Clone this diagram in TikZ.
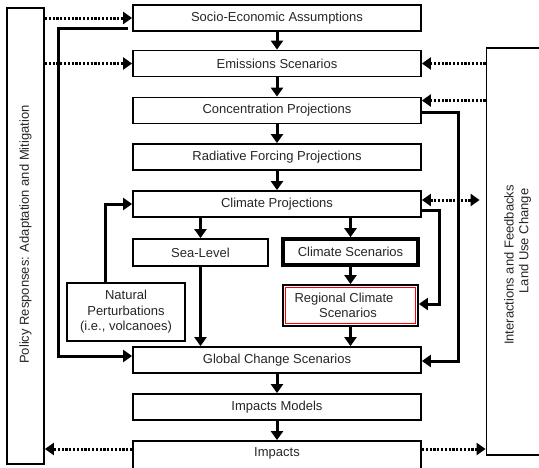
\documentclass[tikz,border=0pt]{standalone}
\usepackage{fontspec}
\setmainfont{Liberation Sans}
\usetikzlibrary{arrows.meta,calc}
\tikzset{
  box/.style={draw, line width=1.8pt, inner sep=0pt, minimum width=288pt, minimum height=26pt, font=\fontsize{13pt}{15.5pt}\selectfont, text=black!85},
  sbox/.style={box, minimum width=135pt},
  arr/.style={line width=3pt, -{Triangle[length=9pt,width=12pt]}},
  dotline/.style={line width=3pt, dash pattern=on 2.2pt off 1.6pt},
  dotarr/.style={dotline, -{Triangle[length=9pt,width=12pt]}},
  lbl/.style={font=\fontsize{13pt}{15.5pt}\selectfont, text=black!85, inner sep=0pt, rotate=90}
}
\begin{document}
\begin{tikzpicture}[x=1pt,y=-1pt]
\useasboundingbox (0,0) rectangle (539,467);
% side boxes
\node[draw, line width=1.8pt, minimum width=37pt, minimum height=456pt, inner sep=0pt] (pol) at (25.5,236) {};
\node[lbl] (poltext) at (25.5,234.5) {Policy Responses: Adaptation and Mitigation};
\node[draw, line width=1.8pt, minimum width=80pt, minimum height=407pt, inner sep=0pt] (inter) at (526.5,251.5) {};
\node[lbl] (intA) at (509,265) {Interactions and Feedbacks};
\node[lbl] (intB) at (525,241) {Land Use Change};
% main column
\node[box] (soc) at (277,18) {Socio-Economic Assumptions};
\node[box] (emi) at (277,63.5) {Emissions Scenarios};
\node[box] (con) at (277,110.5) {Concentration Projections};
\node[box] (rad) at (277,157) {Radiative Forcing Projections};
\node[box] (cli) at (277,204) {Climate Projections};
\node[sbox, minimum height=27pt] (sea) at (200.5,252.5) {Sea-Level};
\node[sbox, line width=3.6pt] (csc) at (350.5,252) {Climate Scenarios};
\node[sbox, minimum height=41pt] (reg) at (350.5,305.5) {};
\draw[red, line width=1.1pt] ($(reg.south west)+(3.2pt,3.2pt)$) rectangle ($(reg.north east)+(-3.2pt,-3.2pt)$);
\node[font=\fontsize{13pt}{15.5pt}\selectfont, text=black!85, align=center, inner sep=0pt] (regtext) at (344,305.5) {Regional Climate\\\hspace*{8pt}Scenarios};
\node[box, minimum width=118pt, minimum height=58pt, align=center] (nat) at (126,312) {Natural\\Perturbations\\(i.e., volcanoes)};
\node[box] (glo) at (277,360) {Global Change Scenarios};
\node[box] (imm) at (277,407) {Impacts Models};
\node[box, minimum height=28pt] (imp) at (277,455) {};
\node[font=\fontsize{13pt}{15.5pt}\selectfont, text=black!85, inner sep=0pt] (imptext) at (277,453.5) {Impacts};
% vertical arrows
\draw[arr] (soc.south) -- (emi.north);
\draw[arr] (emi.south) -- (con.north);
\draw[arr] (con.south) -- (rad.north);
\draw[arr] (rad.south) -- (cli.north);
\draw[arr] (sea.north |- cli.south) -- (sea.north);
\draw[arr] (csc.north |- cli.south) -- (csc.north);
\draw[arr] (csc.south) -- (reg.north);
\draw[arr] (reg.south) -- (reg.south |- glo.north);
\draw[arr] (sea.south) -- (sea.south |- glo.north);
\draw[arr] (glo.south) -- (imm.north);
\draw[arr] (imm.south) -- (imp.north);
% loops
\coordinate (lx) at (58,200);
\draw[arr] ([shift={(-4pt,-10pt)}]soc.west) -| (lx) |- ([yshift=4pt]glo.west);
\draw[arr] ([xshift=-21pt]nat.north) |- (cli.west);
\coordinate (rx1) at (458,250);
\draw[arr] ([yshift=-1.5pt]con.east) -| (rx1) |- ([yshift=-1pt]glo.east);
\coordinate (rx2) at (439,250);
\draw[arr] ([yshift=-6pt]cli.east) -| (rx2) |- ([yshift=1.5pt]reg.east);
% dotted arrows
\coordinate (conin) at ([yshift=10pt]con.east);
\coordinate (cliio) at ([yshift=4pt]cli.east);
\coordinate (impe) at ([yshift=6pt]imp.east);
\coordinate (impw) at ([yshift=6pt]imp.west);
\draw[dotarr] (pol.east |- soc.west) -- (soc.west);
\draw[dotarr] (pol.east |- emi.west) -- (emi.west);
\draw[dotarr] (inter.west |- emi.east) -- (emi.east);
\draw[dotarr] (inter.west |- conin) -- (conin);
\draw[dotline, {Triangle[length=9pt,width=12pt]}-{Triangle[length=9pt,width=12pt]}, shorten >=6pt] (cliio) -- (inter.west |- cliio);
\draw[dotarr] (impe) -- (inter.west |- impe);
\draw[dotarr] (impw) -- (pol.east |- impw);
\end{tikzpicture}
\end{document}
